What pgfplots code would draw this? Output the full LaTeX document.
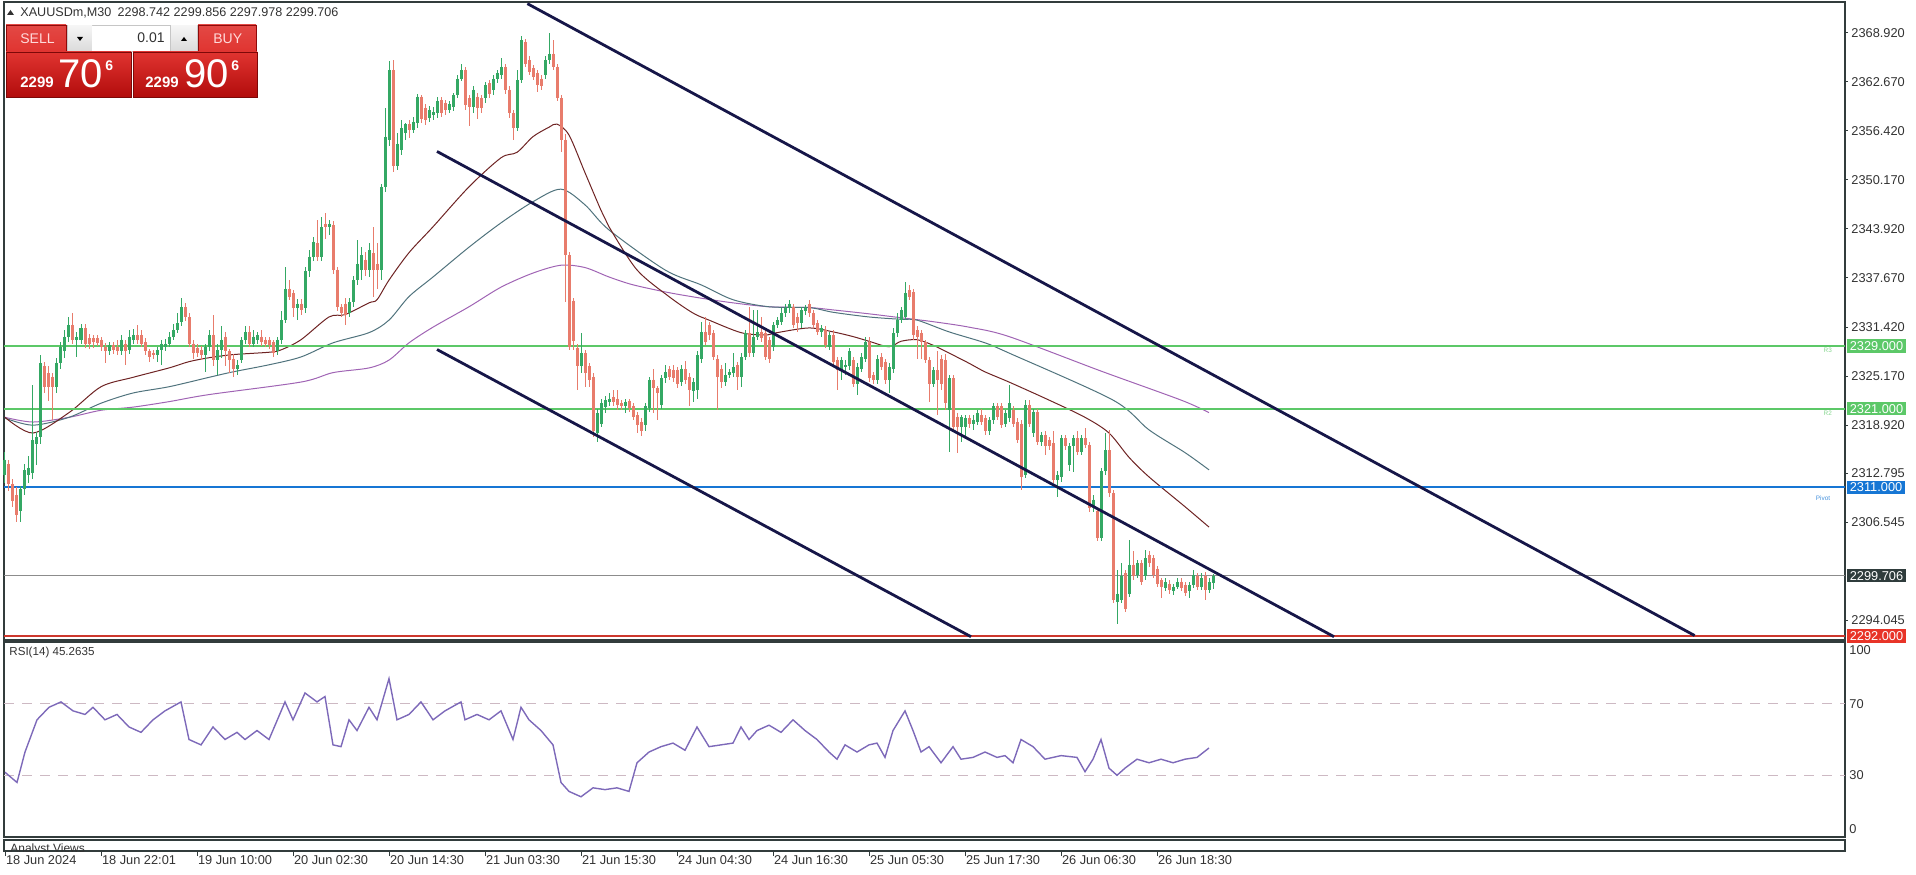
\documentclass[border=0pt]{standalone}
\usepackage{fontspec}
\setmainfont{Liberation Sans}
\usepackage{pgfplots}
\usepackage{pgfplotstable}
\pgfplotsset{compat=1.18}
\definecolor{bull}{RGB}{52,168,100}
\definecolor{bear}{RGB}{232,124,108}
\definecolor{lvlgreen}{RGB}{92,200,104}
\definecolor{lvlblue}{RGB}{22,118,212}
\definecolor{chan}{RGB}{22,22,72}
\definecolor{maA}{RGB}{110,35,35}
\definecolor{maB}{RGB}{80,115,125}
\definecolor{maC}{RGB}{160,100,180}
\definecolor{rsic}{RGB}{125,105,185}
\definecolor{rsilvl}{RGB}{205,185,195}
\definecolor{frm}{RGB}{50,60,60}
\definecolor{txt}{RGB}{50,50,50}
\definecolor{redtop}{RGB}{224,52,48}
\definecolor{redbot}{RGB}{178,12,12}
\definecolor{selltxt}{RGB}{255,218,218}
\definecolor{curgrey}{RGB}{140,140,140}
\definecolor{curbox}{RGB}{47,60,60}
\definecolor{lowred}{RGB}{205,55,45}
\definecolor{lowbox}{RGB}{232,52,40}

\pgfplotstableread{
i o h l c
0 2312.5 2315.5 2311.5 2314.5
1 2314.0 2314.5 2310.5 2311.4
2 2311.4 2312.0 2308.5 2309.2
3 2310.0 2311.0 2306.6 2307.5
4 2308.0 2311.2 2306.6 2310.8
5 2310.8 2314.0 2310.0 2313.2
6 2312.5 2315.0 2311.5 2313.5
7 2312.8 2324.0 2312.0 2317.0
8 2316.5 2318.0 2313.8 2317.4
9 2317.4 2327.8 2316.5 2326.8
10 2326.4 2327.0 2323.0 2323.8
11 2325.5 2326.5 2322.0 2323.8
12 2325.0 2325.5 2319.6 2323.8
13 2323.8 2327.5 2323.0 2326.8
14 2326.8 2329.5 2326.0 2328.9
15 2328.3 2331.0 2327.5 2330.2
16 2330.2 2332.7 2329.5 2331.7
17 2331.7 2333.2 2329.3 2329.8
18 2329.8 2330.8 2327.6 2330.2
19 2329.8 2331.8 2329.3 2331.3
20 2331.3 2331.8 2328.8 2329.3
21 2330.0 2330.5 2328.6 2329.3
22 2330.0 2330.4 2328.8 2329.5
23 2330.0 2330.4 2329.0 2329.4
24 2329.8 2330.2 2328.3 2328.9
25 2328.9 2329.4 2326.8 2328.3
26 2328.3 2329.5 2327.9 2329.1
27 2329.1 2329.5 2328.0 2328.5
28 2328.9 2329.8 2327.8 2328.3
29 2328.3 2330.4 2327.9 2329.8
30 2329.3 2329.8 2326.6 2328.3
31 2328.5 2331.0 2328.0 2330.2
32 2329.8 2331.2 2329.3 2330.4
33 2330.4 2331.7 2329.3 2329.8
34 2330.4 2331.0 2328.9 2329.3
35 2329.5 2330.0 2327.8 2328.3
36 2328.3 2328.6 2327.0 2327.6
37 2328.1 2328.5 2327.4 2327.9
38 2327.9 2328.9 2326.9 2328.5
39 2328.5 2329.8 2326.6 2329.3
40 2328.9 2329.9 2328.3 2329.3
41 2329.3 2330.8 2328.9 2330.2
42 2330.2 2331.8 2329.8 2331.0
43 2331.0 2333.2 2330.6 2331.9
44 2332.1 2335.1 2331.6 2334.0
45 2334.0 2334.5 2332.2 2332.7
46 2332.7 2333.2 2328.9 2329.3
47 2329.3 2329.8 2327.4 2328.1
48 2328.8 2329.3 2327.6 2328.1
49 2328.5 2329.0 2327.2 2327.8
50 2327.8 2329.3 2325.7 2328.9
51 2328.9 2331.0 2328.3 2330.4
52 2330.4 2332.9 2326.5 2327.2
53 2327.2 2329.3 2325.3 2328.5
54 2328.5 2331.5 2327.5 2329.8
55 2330.2 2330.8 2326.5 2328.3
56 2328.3 2328.6 2325.5 2327.2
57 2327.4 2328.0 2325.1 2326.1
58 2326.0 2327.2 2325.3 2326.6
59 2327.2 2330.2 2326.8 2329.8
60 2329.8 2331.5 2329.3 2330.8
61 2330.8 2331.5 2328.9 2329.3
62 2329.3 2331.0 2328.9 2330.2
63 2329.8 2330.8 2329.3 2330.4
64 2330.2 2331.0 2329.0 2329.5
65 2329.8 2330.2 2328.9 2329.3
66 2329.8 2330.2 2328.6 2329.1
67 2329.5 2329.8 2327.6 2328.1
68 2328.3 2330.2 2327.9 2329.8
69 2329.8 2333.5 2329.3 2332.3
70 2332.3 2339.1 2331.9 2336.3
71 2336.3 2337.4 2334.9 2335.3
72 2335.7 2336.1 2332.7 2333.8
73 2333.8 2335.0 2332.3 2334.4
74 2334.4 2335.0 2332.9 2333.6
75 2333.8 2339.1 2333.2 2338.5
76 2338.5 2341.2 2337.8 2340.4
77 2340.4 2342.9 2339.9 2342.3
78 2342.1 2345.1 2339.9 2340.4
79 2340.4 2345.4 2339.9 2344.2
80 2344.6 2345.9 2342.7 2344.2
81 2344.2 2345.1 2343.2 2344.6
82 2344.4 2345.0 2338.2 2338.7
83 2338.7 2339.1 2333.4 2334.0
84 2334.0 2334.4 2332.7 2333.2
85 2334.4 2335.1 2331.7 2332.9
86 2333.2 2335.1 2332.7 2334.6
87 2334.6 2337.9 2334.0 2337.4
88 2337.4 2342.5 2336.8 2339.5
89 2338.7 2341.6 2337.4 2340.6
90 2340.0 2341.0 2337.9 2338.7
91 2338.7 2342.1 2337.8 2341.2
92 2340.8 2344.2 2335.3 2338.7
93 2339.5 2342.1 2336.3 2338.7
94 2338.7 2349.6 2337.4 2349.3
95 2349.3 2359.3 2348.7 2355.7
96 2355.3 2365.3 2354.5 2364.2
97 2364.2 2365.5 2351.2 2351.9
98 2351.9 2356.2 2351.5 2354.8
99 2354.0 2357.8 2353.4 2356.8
100 2356.2 2357.5 2355.3 2357.3
101 2357.3 2357.8 2355.5 2356.6
102 2356.6 2358.2 2356.2 2357.6
103 2357.4 2361.2 2356.8 2360.8
104 2360.8 2361.0 2357.4 2358.0
105 2359.3 2359.8 2357.2 2357.8
106 2358.1 2359.6 2357.6 2359.1
107 2358.4 2359.5 2357.8 2358.8
108 2358.7 2360.8 2358.1 2360.2
109 2360.4 2360.8 2358.2 2358.7
110 2360.0 2360.4 2358.4 2359.1
111 2359.1 2360.2 2358.7 2359.8
112 2359.5 2361.3 2359.0 2361.0
113 2361.0 2363.6 2360.6 2363.1
114 2363.1 2365.0 2362.8 2364.2
115 2364.2 2364.6 2359.1 2359.7
116 2360.6 2361.0 2357.0 2359.5
117 2359.5 2362.1 2358.7 2361.7
118 2360.8 2361.3 2358.0 2359.3
119 2360.6 2361.0 2358.7 2359.3
120 2360.6 2362.7 2360.0 2362.3
121 2362.5 2362.9 2360.6 2361.2
122 2361.6 2363.5 2361.0 2363.1
123 2363.1 2364.2 2362.5 2363.8
124 2363.6 2365.7 2363.1 2364.6
125 2364.6 2365.0 2361.2 2361.7
126 2361.7 2362.1 2358.1 2358.7
127 2358.7 2359.1 2355.3 2356.8
128 2356.8 2364.2 2356.4 2362.9
129 2362.9 2368.5 2362.5 2368.0
130 2367.8 2368.2 2364.6 2365.0
131 2365.5 2366.0 2363.6 2364.0
132 2364.4 2364.8 2362.9 2363.3
133 2363.8 2364.2 2361.4 2362.3
134 2363.1 2363.5 2361.6 2362.1
135 2363.6 2366.0 2363.1 2365.5
136 2365.5 2368.9 2365.0 2366.3
137 2366.3 2368.0 2364.2 2364.6
138 2364.6 2365.0 2360.2 2360.6
139 2360.6 2361.0 2353.8 2355.3
140 2355.3 2356.0 2334.6 2340.6
141 2340.6 2341.0 2328.5 2328.9
142 2334.8 2335.1 2328.5 2329.6
143 2328.8 2329.3 2323.4 2326.4
144 2326.4 2330.6 2325.5 2328.1
145 2328.1 2328.5 2323.8 2325.5
146 2326.4 2326.8 2323.8 2324.7
147 2325.1 2325.5 2317.4 2318.1
148 2317.9 2321.0 2316.8 2320.4
149 2319.1 2322.3 2318.7 2321.7
150 2321.2 2322.6 2320.4 2322.1
151 2321.9 2323.0 2321.3 2322.3
152 2322.5 2323.4 2321.4 2321.9
153 2322.3 2323.4 2320.8 2321.5
154 2321.7 2322.1 2320.8 2321.3
155 2321.3 2322.3 2320.4 2321.9
156 2322.0 2322.3 2320.6 2321.1
157 2321.3 2321.7 2319.5 2320.0
158 2320.2 2320.6 2317.9 2318.9
159 2319.3 2319.8 2317.5 2318.1
160 2318.9 2321.7 2318.1 2321.3
161 2321.1 2325.1 2320.6 2324.7
162 2324.7 2326.1 2320.4 2323.6
163 2323.6 2323.9 2319.6 2323.0
164 2321.5 2325.3 2320.9 2324.9
165 2324.9 2326.6 2324.3 2325.7
166 2326.0 2326.4 2324.7 2325.1
167 2325.9 2326.6 2324.4 2324.9
168 2325.9 2326.3 2323.6 2324.2
169 2324.4 2326.6 2323.9 2326.1
170 2326.0 2327.1 2324.2 2324.7
171 2325.1 2325.5 2321.3 2323.4
172 2323.2 2324.9 2321.9 2324.4
173 2323.4 2328.3 2322.3 2327.8
174 2327.4 2332.1 2326.8 2330.8
175 2330.8 2332.7 2329.1 2329.5
176 2331.7 2332.1 2329.8 2330.4
177 2330.6 2331.0 2327.2 2327.6
178 2327.4 2327.8 2320.8 2325.1
179 2326.1 2326.6 2323.6 2324.4
180 2324.4 2326.8 2323.9 2325.3
181 2325.3 2326.1 2324.9 2325.7
182 2325.5 2328.1 2325.1 2326.3
183 2326.6 2327.0 2323.4 2325.1
184 2325.1 2328.1 2323.8 2327.6
185 2327.6 2331.0 2327.2 2330.6
186 2330.6 2334.0 2327.6 2328.1
187 2328.1 2333.6 2327.6 2330.2
188 2330.2 2333.6 2329.8 2330.8
189 2330.8 2332.7 2329.5 2330.0
190 2330.6 2331.0 2327.2 2327.6
191 2329.8 2330.2 2326.8 2327.4
192 2328.9 2332.1 2328.3 2331.7
193 2331.7 2332.7 2331.3 2332.3
194 2332.1 2333.8 2331.7 2333.2
195 2333.2 2334.4 2332.7 2333.8
196 2333.8 2334.9 2333.2 2334.4
197 2334.0 2334.4 2331.3 2331.7
198 2332.7 2333.2 2330.8 2331.9
199 2331.9 2334.0 2331.3 2333.6
200 2333.4 2334.2 2333.0 2333.8
201 2334.4 2334.9 2332.7 2333.2
202 2333.2 2333.6 2331.3 2331.7
203 2331.9 2332.3 2330.4 2330.8
204 2330.8 2331.7 2330.2 2331.3
205 2331.1 2331.5 2328.7 2329.1
206 2328.9 2330.8 2328.5 2330.4
207 2330.4 2331.0 2326.6 2327.0
208 2327.2 2327.6 2323.4 2325.9
209 2325.9 2327.6 2324.7 2327.2
210 2326.3 2327.2 2325.3 2326.6
211 2326.4 2328.7 2325.9 2328.3
212 2327.2 2327.6 2323.8 2324.2
213 2324.2 2326.8 2322.7 2326.3
214 2326.1 2328.1 2325.7 2327.6
215 2327.4 2330.2 2327.0 2329.5
216 2329.5 2330.2 2324.4 2324.9
217 2325.3 2325.7 2324.2 2324.7
218 2324.7 2327.8 2324.2 2327.4
219 2327.6 2328.1 2325.9 2326.3
220 2327.0 2327.4 2324.2 2324.7
221 2324.7 2326.8 2323.0 2326.3
222 2326.0 2331.3 2325.5 2330.6
223 2330.6 2333.2 2330.2 2332.3
224 2332.3 2334.0 2331.9 2333.6
225 2332.7 2337.2 2332.3 2335.7
226 2336.1 2336.8 2334.9 2335.3
227 2335.9 2336.3 2329.8 2330.4
228 2331.0 2331.5 2327.4 2330.2
229 2330.6 2331.0 2327.4 2329.5
230 2329.5 2329.8 2326.8 2327.2
231 2327.2 2327.6 2321.9 2324.2
232 2324.2 2326.3 2323.8 2325.9
233 2325.9 2328.3 2320.2 2324.7
234 2327.4 2327.8 2323.4 2324.2
235 2327.2 2328.0 2320.8 2321.7
236 2320.8 2325.3 2315.5 2324.9
237 2324.9 2325.3 2318.3 2318.7
238 2320.0 2320.4 2315.3 2318.7
239 2318.7 2320.2 2316.8 2319.9
240 2318.7 2320.2 2317.2 2319.8
241 2319.8 2320.2 2318.5 2319.1
242 2319.1 2320.2 2318.3 2319.6
243 2319.3 2320.8 2318.9 2320.4
244 2320.2 2321.0 2318.9 2319.3
245 2319.8 2320.2 2317.7 2318.1
246 2318.1 2320.0 2317.7 2319.6
247 2319.6 2321.7 2319.1 2321.3
248 2321.3 2321.7 2319.6 2320.0
249 2321.3 2321.7 2318.5 2318.9
250 2319.1 2320.8 2318.7 2320.4
251 2319.8 2324.0 2319.3 2321.7
252 2320.8 2321.3 2318.7 2319.1
253 2319.3 2319.8 2316.6 2317.0
254 2319.1 2319.5 2310.6 2312.3
255 2312.5 2322.1 2312.1 2321.5
256 2321.5 2322.1 2318.7 2319.1
257 2317.9 2321.0 2317.4 2320.6
258 2320.6 2321.0 2316.4 2316.8
259 2316.8 2318.0 2316.2 2317.6
260 2317.6 2318.1 2315.1 2316.2
261 2317.0 2317.4 2315.7 2316.2
262 2316.6 2318.1 2311.5 2311.9
263 2311.9 2313.0 2309.8 2312.6
264 2312.3 2317.6 2311.7 2317.2
265 2317.2 2317.6 2315.7 2316.2
266 2313.8 2316.6 2313.0 2316.2
267 2316.2 2317.6 2312.9 2317.2
268 2317.2 2318.1 2315.1 2315.5
269 2315.5 2317.6 2315.1 2317.2
270 2317.2 2318.5 2316.0 2316.4
271 2316.4 2316.8 2307.8 2308.3
272 2308.5 2310.0 2307.8 2309.4
273 2307.9 2308.3 2304.1 2304.5
274 2304.5 2313.4 2304.1 2313.0
275 2313.0 2317.9 2312.5 2315.7
276 2315.7 2318.3 2309.8 2310.2
277 2310.2 2310.6 2296.2 2296.6
278 2296.4 2300.4 2293.6 2297.4
279 2296.6 2301.3 2296.2 2299.6
280 2300.0 2300.4 2295.1 2295.5
281 2297.4 2304.3 2297.0 2301.1
282 2301.1 2302.8 2299.2 2299.6
283 2299.8 2301.7 2299.4 2301.3
284 2301.3 2301.7 2298.5 2298.9
285 2299.6 2303.0 2299.2 2301.9
286 2302.3 2302.8 2300.8 2301.3
287 2301.9 2302.3 2299.4 2299.8
288 2300.6 2301.0 2298.3 2298.7
289 2299.1 2299.4 2296.8 2298.3
290 2298.1 2299.4 2297.7 2298.9
291 2298.7 2299.1 2297.4 2297.9
292 2297.7 2298.7 2297.2 2298.3
293 2298.3 2299.4 2298.0 2298.9
294 2298.9 2299.4 2297.7 2298.1
295 2298.5 2298.9 2297.1 2297.5
296 2297.7 2298.9 2296.8 2298.5
297 2298.5 2300.4 2298.1 2299.8
298 2299.6 2300.0 2297.9 2298.3
299 2298.3 2300.0 2297.9 2299.4
300 2299.6 2300.2 2296.6 2297.9
301 2297.9 2299.4 2297.5 2298.9
302 2298.742 2299.856 2297.978 2299.706
}\candles

\pgfplotstableread{
i v
0 2319.9
7 2317.9
16 2320.5
24 2323.8
32 2325.0
41 2326.2
46 2327.0
51 2327.5
57 2327.9
66 2328.2
69 2328.5
74 2329.8
81 2332.7
85 2333.0
91 2334.5
93 2334.9
96 2337.4
101 2340.9
107 2344.2
116 2349.3
124 2353.0
128 2353.7
132 2355.7
136 2356.9
138 2357.3
141 2355.9
145 2351.1
149 2346.3
151 2344.2
158 2338.7
166 2335.3
172 2333.2
176 2332.3
184 2330.7
190 2330.4
193 2330.7
201 2331.3
207 2330.8
212 2330.2
216 2329.6
221 2328.9
224 2329.6
228 2329.8
232 2329.1
236 2328.1
241 2326.8
245 2325.7
251 2324.4
261 2322.1
270 2319.9
276 2317.9
281 2314.8
286 2312.3
295 2308.5
301 2305.9
}\maone

\pgfplotstableread{
i v
0 2319.8
7 2318.9
16 2319.9
24 2321.7
32 2323.0
41 2323.8
51 2325.0
57 2325.7
66 2326.6
74 2327.6
82 2329.4
91 2330.7
96 2332.3
101 2335.3
107 2337.8
116 2341.6
124 2344.7
132 2347.4
139 2349.0
145 2347.0
151 2343.8
165 2338.7
174 2336.8
182 2334.9
191 2334.0
201 2333.9
207 2333.3
216 2332.7
224 2332.4
228 2332.3
236 2330.8
245 2329.4
251 2328.1
277 2322.1
286 2318.3
295 2315.4
301 2313.2
}\matwo

\pgfplotstableread{
i v
0 2319.9
7 2319.3
16 2319.9
24 2320.8
32 2321.2
41 2321.9
51 2322.8
74 2324.4
82 2325.6
91 2326.2
96 2327.2
101 2329.4
107 2331.4
116 2334.0
124 2336.5
132 2338.3
139 2339.3
145 2339.0
151 2337.8
157 2336.8
166 2335.8
174 2335.1
182 2334.5
191 2334.0
201 2333.9
207 2333.6
216 2333.1
224 2332.6
232 2332.1
241 2331.4
251 2330.2
274 2325.8
294 2322.1
301 2320.5
}\mathree

\pgfplotstableread{
i v
0 31.7
3 26
5 43
8 61
11 68
14 71
17 66
20 64
22 68
25 61
28 64
31 57
34 54
37 61
40 66
44 71
46 50
49 47
52 57
55 50
58 54
60 50
63 55
66 50
70 71
72 61
75 76
78 71
80 74
82 47
84 46
86 61
88 55
91 68
93 61
96 84
98 61
101 64
104 71
107 61
110 66
114 71
115 61
118 64
121 61
124 66
127 50
129 68
131 61
134 55
137 47
139 26
141 21
144 18
147 23
150 22
153 23
156 21
158 37
161 43
164 46
167 48
170 44
173 57
176 46
179 47
182 48
184 57
186 50
188 55
191 58
194 54
197 61
200 55
203 50
206 43
208 39
210 47
213 43
216 47
218 48
220 40
222 55
225 66
227 55
229 43
231 46
234 37
237 46
239 39
242 40
245 43
248 40
250 41
252 37
254 50
257 46
260 39
262 40
264 41
268 40
270 32
272 39
274 50
276 34
278 30
280 34
283 39
286 37
289 39
292 37
295 39
298 40
301 45.26
}\rsi

\newcommand{\lblfont}{\fontsize{6.4}{7}\selectfont}

\begin{document}
\begin{tikzpicture}
\useasboundingbox (0pt,0pt) rectangle (958pt,437pt);

% ---------------- main price panel ----------------
\begin{axis}[
  at={(2pt,117pt)}, anchor=south west,
  width=920.5pt, height=319pt, scale only axis,
  xmin=-0.25, xmax=460, ymin=2291.5, ymax=2372.87,
  clip=false,
  axis line style={frm, line width=0.6pt},
  xtick=\empty,
  ytick={2294.045,2306.545,2312.795,2318.920,2325.170,2331.420,2337.670,2343.920,2350.170,2356.420,2362.670,2368.920},
  yticklabels={2294.045,2306.545,2312.795,2318.920,2325.170,2331.420,2337.670,2343.920,2350.170,2356.420,2362.670,2368.920},
  ytick pos=right, yticklabel pos=right,
  tick align=outside, major tick length=1.5pt,
  tick style={frm, line width=0.5pt},
  yticklabel style={font=\lblfont, text=txt, anchor=west, inner sep=0pt, xshift=1.5pt},
  candle/.style={draw=none, mark=none, forget plot, unbounded coords=discard},
]
% moving averages
\addplot[maC, line width=0.5pt, smooth] table[x=i,y=v] {\mathree};
\addplot[maB, line width=0.5pt, smooth] table[x=i,y=v] {\matwo};
\addplot[maA, line width=0.5pt, smooth] table[x=i,y=v] {\maone};
% horizontal levels
\addplot[lvlgreen, line width=1pt] coordinates {(-0.25,2329) (460,2329)};
\addplot[lvlgreen, line width=1pt] coordinates {(-0.25,2321) (460,2321)};
\addplot[lvlblue, line width=1pt] coordinates {(-0.25,2311) (460,2311)};
\addplot[curgrey, line width=0.5pt] coordinates {(-0.25,2299.706) (460,2299.706)};
\addplot[lowred, line width=1pt] coordinates {(-0.25,2292) (460,2292)};
% candle wicks
\addplot[candle,
  restrict expr to domain={\thisrow{c}-\thisrow{o}}{0:1000},
  error bars/.cd, y dir=both, y explicit, error mark=none,
  error bar style={line width=0.5pt, draw=bull}]
  table[x=i, y=c, y error plus expr={\thisrow{h}-\thisrow{c}}, y error minus expr={\thisrow{c}-\thisrow{l}}] {\candles};
\addplot[candle,
  restrict expr to domain={\thisrow{c}-\thisrow{o}}{-1000:-0.0001},
  error bars/.cd, y dir=both, y explicit, error mark=none,
  error bar style={line width=0.5pt, draw=bear}]
  table[x=i, y=c, y error plus expr={\thisrow{h}-\thisrow{c}}, y error minus expr={\thisrow{c}-\thisrow{l}}] {\candles};
% candle bodies
\addplot[candle,
  restrict expr to domain={\thisrow{c}-\thisrow{o}}{0:1000},
  error bars/.cd, y dir=minus, y explicit, error mark=none,
  error bar style={line width=1.5pt, draw=bull}]
  table[x=i, y expr={max(\thisrow{o},\thisrow{c})}, y error minus expr={max(abs(\thisrow{c}-\thisrow{o}),0.13)}] {\candles};
\addplot[candle,
  restrict expr to domain={\thisrow{c}-\thisrow{o}}{-1000:-0.0001},
  error bars/.cd, y dir=minus, y explicit, error mark=none,
  error bar style={line width=1.5pt, draw=bear}]
  table[x=i, y expr={max(\thisrow{o},\thisrow{c})}, y error minus expr={max(abs(\thisrow{c}-\thisrow{o}),0.13)}] {\candles};
% channel lines
\addplot[chan, line width=1.4pt] coordinates {(130.6,2372.66) (422.4,2292.07)};
\addplot[chan, line width=1.4pt] coordinates {(108,2353.81) (332.25,2291.92)};
\addplot[chan, line width=1.4pt] coordinates {(108,2328.55) (241.5,2291.92)};
% small level tags
\node[font=\fontsize{3.2}{3.5}\selectfont, text=lvlgreen!75!white] at (axis cs:455.7,2328.5) {R3};
\node[font=\fontsize{3.2}{3.5}\selectfont, text=lvlgreen!75!white] at (axis cs:455.7,2320.4) {R2};
\node[font=\fontsize{3.2}{3.5}\selectfont, text=lvlblue!80!white] at (axis cs:454.5,2309.6) {Pivot};
% price boxes
\node[fill=lvlgreen, text=white, anchor=west, inner xsep=1.4pt, inner ysep=0pt, minimum height=6.6pt, font=\lblfont, xshift=0.8pt] at (axis cs:460,2329) {2329.000};
\node[fill=lvlgreen, text=white, anchor=west, inner xsep=1.4pt, inner ysep=0pt, minimum height=6.6pt, font=\lblfont, xshift=0.8pt] at (axis cs:460,2321) {2321.000};
\node[fill=lvlblue, text=white, anchor=west, inner xsep=1.4pt, inner ysep=0pt, minimum height=6.6pt, font=\lblfont, xshift=0.8pt] at (axis cs:460,2311) {2311.000};
\node[fill=curbox, text=white, anchor=west, inner xsep=1.4pt, inner ysep=0pt, minimum height=6.6pt, font=\lblfont, xshift=0.8pt] at (axis cs:460,2299.706) {2299.706};
\node[fill=lowbox, text=white, anchor=west, inner xsep=1.4pt, inner ysep=0pt, minimum height=6.6pt, font=\lblfont, xshift=0.8pt] at (axis cs:460,2292) {2292.000};
\end{axis}

% ---------------- RSI panel ----------------
\begin{axis}[
  at={(2pt,18.5pt)}, anchor=south west,
  width=920.5pt, height=97.5pt, scale only axis,
  xmin=-0.25, xmax=460, ymin=-4.47, ymax=104.47,
  axis line style={frm, line width=0.6pt},
  xtick=\empty,
  ytick={0,30,70,100}, yticklabels={0,30,70,100},
  ytick pos=right, yticklabel pos=right, major tick length=0pt,
  yticklabel style={font=\lblfont, text=txt, anchor=west, inner sep=0pt, xshift=2pt},
]
\addplot[rsilvl, line width=0.6pt, dash pattern=on 5pt off 4pt] coordinates {(-0.25,70) (460,70)};
\addplot[rsilvl, line width=0.6pt, dash pattern=on 5pt off 4pt] coordinates {(-0.25,30) (460,30)};
\addplot[rsic, line width=0.7pt] table[x=i,y=v] {\rsi};
\node[anchor=north west, font=\fontsize{5.8}{6}\selectfont, text=txt, inner sep=0pt] at (rel axis cs:0,1) [xshift=2.5pt, yshift=-2.5pt] {RSI(14) 45.2635};
\end{axis}

% ---------------- bottom strip with time axis ----------------
\begin{axis}[
  at={(2pt,11.5pt)}, anchor=south west,
  width=920.5pt, height=5.5pt, scale only axis,
  xmin=-0.25, xmax=460, ymin=0, ymax=1,
  axis line style={frm, line width=0.6pt},
  ytick=\empty,
  xtick={0,24,48,72,96,120,144,168,192,216,240,264,288},
  xticklabels={18 Jun 2024,18 Jun 22:01,19 Jun 10:00,20 Jun 02:30,20 Jun 14:30,21 Jun 03:30,21 Jun 15:30,24 Jun 04:30,24 Jun 16:30,25 Jun 05:30,25 Jun 17:30,26 Jun 06:30,26 Jun 18:30},
  xtick pos=bottom, tick align=outside, major tick length=2.5pt,
  tick style={frm, line width=0.5pt},
  xticklabel style={font=\lblfont, text=txt, anchor=north west, inner sep=0pt, xshift=0.3pt, yshift=0.5pt},
]
\end{axis}
\begin{scope}
\clip (2pt,11.5pt) rectangle (922.5pt,17pt);
\node[anchor=north west, font=\fontsize{6}{6}\selectfont, text=txt, inner sep=0pt] at (5pt,15.2pt) {Analyst Views};
\end{scope}

% ---------------- header and trade widget (pixel units) ----------------
\begin{scope}[x=0.5pt, y=-0.5pt, shift={(0pt,437pt)}]
\fill[txt] (7,15) -- (14,15) -- (10.5,10) -- cycle;
\node[anchor=west, font=\fontsize{6.3}{7}\selectfont, text=txt, inner sep=0pt] at (20,12.5) {XAUUSDm,M30\enspace 2298.742 2299.856 2297.978 2299.706};
% top row
\shade[top color=redtop!90!white, bottom color=redtop] (6,25) rectangle (66,52);
\shade[top color=redtop!90!white, bottom color=redtop] (198,25) rectangle (256,52);
\draw[redbot!80!black, line width=0.3pt] (6,25) rectangle (66,52);
\draw[redbot!80!black, line width=0.3pt] (198,25) rectangle (256,52);
\draw[white!80!red, line width=0.4pt] (7,51) -- (65,51);
\draw[white!80!red, line width=0.4pt] (199,51) -- (255,51);
\node[anchor=base west, font=\fontsize{7}{7}\selectfont, text=selltxt, inner sep=0pt] at (20,44) {SELL};
\node[anchor=base west, font=\fontsize{7}{7}\selectfont, text=selltxt, inner sep=0pt] at (213,44) {BUY};
% spinner
\fill[gray!45] (67,25) rectangle (198,52);
\shade[top color=gray!8, bottom color=gray!28] (68,26) rectangle (92,51);
\fill[white] (92,26) rectangle (170,51);
\shade[top color=gray!8, bottom color=gray!28] (171,26) rectangle (197,51);
\fill[black] (77,37) -- (83,37) -- (80,41) -- cycle;
\fill[black] (181,41) -- (187,41) -- (184,37) -- cycle;
\node[anchor=base east, font=\fontsize{7}{7}\selectfont, text=txt, inner sep=0pt] at (165,43) {0.01};
% price boxes
\shade[top color=redtop, bottom color=redbot] (6,52) rectangle (131,97);
\shade[top color=redtop, bottom color=redbot] (133,52) rectangle (257,97);
\draw[redbot!70!black, line width=0.3pt] (6,52) rectangle (131,97);
\draw[redbot!70!black, line width=0.3pt] (133,52) rectangle (257,97);
\node[anchor=base west, font=\bfseries\fontsize{7.5}{8}\selectfont, text=white, inner sep=0pt] at (20,88) {2299};
\node[anchor=base west, font=\fontsize{20}{20}\selectfont, text=white, inner sep=0pt] at (58,88) {70};
\node[anchor=base west, font=\bfseries\fontsize{7}{7}\selectfont, text=white, inner sep=0pt] at (105,71) {6};
\node[anchor=base west, font=\bfseries\fontsize{7.5}{8}\selectfont, text=white, inner sep=0pt] at (145,88) {2299};
\node[anchor=base west, font=\fontsize{20}{20}\selectfont, text=white, inner sep=0pt] at (184,88) {90};
\node[anchor=base west, font=\bfseries\fontsize{7}{7}\selectfont, text=white, inner sep=0pt] at (231,71) {6};
\end{scope}
\end{tikzpicture}
\end{document}
